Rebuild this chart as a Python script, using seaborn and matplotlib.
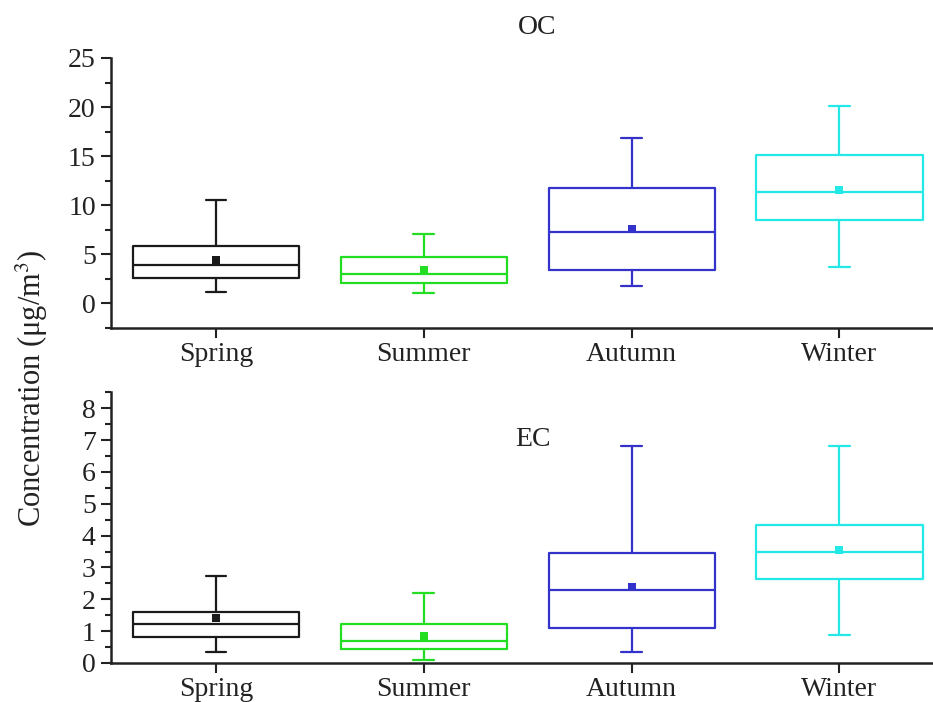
import numpy as np
import pandas as pd
import matplotlib
matplotlib.use("Agg")
import matplotlib.pyplot as plt
from matplotlib.ticker import MultipleLocator
import seaborn as sns

# ==========================================
# Data
# ==========================================

seasons = ["Spring", "Summer", "Autumn", "Winter"]
colors = ["#1a1a1a", "#22dd22", "#3333cc", "#22e8e8"]

# five-number summaries: min, Q1, median, Q3, max
oc_min = [1.2, 1.05, 1.8, 3.7]
oc_q1 = [2.6, 2.1, 3.4, 8.5]
oc_med = [3.9, 2.95, 7.25, 11.4]
oc_q3 = [5.8, 4.7, 11.75, 15.1]
oc_max = [10.55, 7.1, 16.9, 20.1]
oc_mean = [4.4, 3.4, 7.6, 11.55]

ec_min = [0.33, 0.1, 0.36, 0.87]
ec_q1 = [0.82, 0.44, 1.1, 2.63]
ec_med = [1.23, 0.7, 2.3, 3.5]
ec_q3 = [1.59, 1.23, 3.45, 4.34]
ec_max = [2.74, 2.21, 6.8, 6.8]
ec_mean = [1.4, 0.86, 2.4, 3.55]


def summary_frame(mins, q1s, meds, q3s, maxs):
    # 5 points per season -> linear percentiles hit Q1/median/Q3 exactly
    rows = []
    for i, s in enumerate(seasons):
        for v in (mins[i], q1s[i], meds[i], q3s[i], maxs[i]):
            rows.append({"season": s, "value": v})
    return pd.DataFrame(rows)


oc_df = summary_frame(oc_min, oc_q1, oc_med, oc_q3, oc_max)
ec_df = summary_frame(ec_min, ec_q1, ec_med, ec_q3, ec_max)
palette = dict(zip(seasons, colors))

# ==========================================
# Style
# ==========================================

sns.set_theme(style="ticks")
plt.rcParams["font.family"] = ["Liberation Serif", "DejaVu Serif"]
plt.rcParams["mathtext.fontset"] = "stix"

FS = 20

fig = plt.figure(figsize=(9.33, 7.02), dpi=100)
ax1 = fig.add_axes([0.119, 0.5328, 0.881, 0.3846])
ax2 = fig.add_axes([0.119, 0.0556, 0.881, 0.3855])


def draw_panel(ax, df, means, ylim, major, minor):
    sns.boxplot(
        data=df, x="season", y="value", hue="season", palette=palette,
        order=seasons, hue_order=seasons, fill=False, whis=(0, 100),
        width=0.8, linewidth=1.6, legend=False, capwidths=0.1, ax=ax
    )
    sns.stripplot(
        x=seasons, y=means, hue=seasons, palette=palette, order=seasons,
        hue_order=seasons, jitter=False, marker="s", size=5.5,
        legend=False, ax=ax
    )
    ax.set_xlim(-0.505, 3.45)
    ax.set_ylim(*ylim)
    ax.yaxis.set_major_locator(MultipleLocator(major))
    ax.yaxis.set_minor_locator(MultipleLocator(minor))
    ax.set_xlabel("")
    ax.set_ylabel("")
    sns.despine(ax=ax)
    for side in ("left", "bottom"):
        ax.spines[side].set_linewidth(1.8)
        ax.spines[side].set_color("#222222")
    ax.tick_params(axis="both", which="major", length=7, width=1.5,
                   labelsize=FS, colors="#222222")
    ax.tick_params(axis="y", which="minor", length=4.5, width=1.5,
                   colors="#222222")
    ax.tick_params(axis="y", pad=4)
    ax.tick_params(axis="x", pad=3)


draw_panel(ax1, oc_df, oc_mean, (-2.5, 25), 5, 2.5)
draw_panel(ax2, ec_df, ec_mean, (0, 8.5), 1, 0.5)

fig.text(537 / 933, 1 - 28 / 702, "OC", ha="center", va="center",
         fontsize=FS, color="#222222")
fig.text(533 / 933, 1 - 440 / 702, "EC", ha="center", va="center",
         fontsize=FS, color="#222222")
fig.text(32 / 933, 1 - 388 / 702, "Concentration (μg/m$^3$)",
         rotation=90, ha="center", va="center", fontsize=22,
         color="#222222")

fig.savefig("out.png", dpi=100)
